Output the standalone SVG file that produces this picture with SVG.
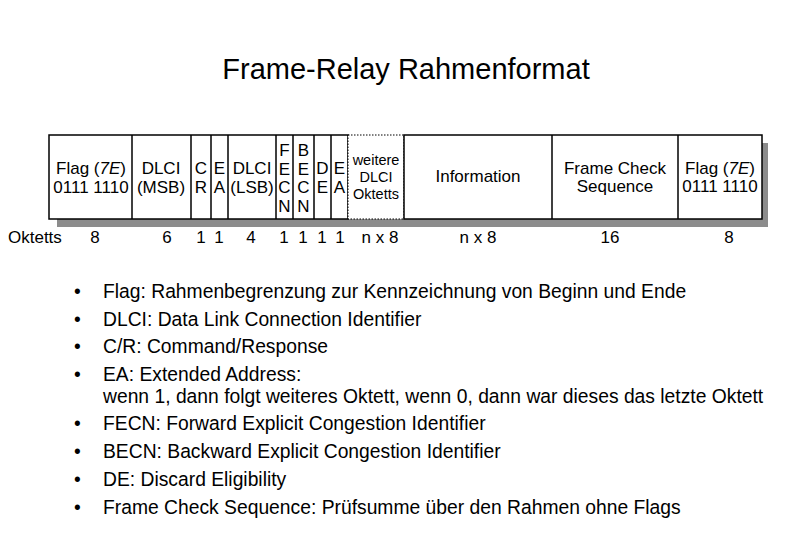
<svg xmlns="http://www.w3.org/2000/svg" width="800" height="550" viewBox="0 0 800 550">
<style>
text{font-family:"Liberation Sans",Arial,sans-serif;fill:#000}
.c{font-size:17px;text-anchor:middle}
.o{font-size:17px;text-anchor:middle}
.b{font-size:19.3px}
.cell{fill:#fff;stroke:#000;stroke-width:1.5}
</style>
<rect width="800" height="550" fill="#fff"/>
<text x="406" y="79" font-size="29" text-anchor="middle">Frame-Relay Rahmenformat</text>
<g id="shadow"><rect x="57" y="143" width="711" height="84" fill="#8c8c8c"/></g>
<g id="frame">
<rect class="cell" x="49" y="135" width="299" height="84"/>
<rect x="348" y="135" width="56" height="84" fill="#fff" stroke="#000" stroke-width="1" stroke-dasharray="1.5,1.5"/>
<rect class="cell" x="404" y="135" width="358" height="84"/>
<g stroke="#000" stroke-width="1.5">
<line x1="132" y1="135" x2="132" y2="219"/><line x1="191" y1="135" x2="191" y2="219"/>
<line x1="211" y1="135" x2="211" y2="219"/><line x1="228" y1="135" x2="228" y2="219"/>
<line x1="276" y1="135" x2="276" y2="219"/><line x1="293" y1="135" x2="293" y2="219"/>
<line x1="314" y1="135" x2="314" y2="219"/><line x1="331" y1="135" x2="331" y2="219"/>
<line x1="552" y1="135" x2="552" y2="219"/><line x1="678" y1="135" x2="678" y2="219"/>
</g>
</g>
<g id="labels">
<text class="c" x="91" y="174">Flag (<tspan font-style="italic">7E</tspan>)</text>
<text class="c" x="91" y="193">0111 1110</text>
<text class="c" x="161" y="174">DLCI</text><text class="c" x="161" y="193">(MSB)</text>
<text class="c" x="201" y="174">C</text><text class="c" x="201" y="193">R</text>
<text class="c" x="219.5" y="174">E</text><text class="c" x="219.5" y="193">A</text>
<text class="c" x="252" y="174">DLCI</text><text class="c" x="252" y="193">(LSB)</text>
<text class="c" x="284.5" y="156">F</text><text class="c" x="284.5" y="174.5">E</text><text class="c" x="284.5" y="193">C</text><text class="c" x="284.5" y="211.5">N</text>
<text class="c" x="303.5" y="156">B</text><text class="c" x="303.5" y="174.5">E</text><text class="c" x="303.5" y="193">C</text><text class="c" x="303.5" y="211.5">N</text>
<text class="c" x="322.5" y="174">D</text><text class="c" x="322.5" y="193">E</text>
<text class="c" x="339.5" y="174">E</text><text class="c" x="339.5" y="193">A</text>
<text x="376" y="165" font-size="14.5" text-anchor="middle">weitere</text>
<text x="376" y="182" font-size="14.5" text-anchor="middle">DLCI</text>
<text x="376" y="199" font-size="14.5" text-anchor="middle">Oktetts</text>
<text class="c" x="478" y="182">Information</text>
<text class="c" x="615" y="174">Frame Check</text><text class="c" x="615" y="192">Sequence</text>
<text class="c" x="720" y="174">Flag (<tspan font-style="italic">7E</tspan>)</text>
<text class="c" x="720" y="192">0111 1110</text>
</g>
<g id="octets">
<text x="8" y="243" font-size="17">Oktetts</text>
<text class="o" x="95" y="243">8</text><text class="o" x="167" y="243">6</text>
<text class="o" x="201" y="243">1</text><text class="o" x="219" y="243">1</text>
<text class="o" x="251" y="243">4</text><text class="o" x="284" y="243">1</text>
<text class="o" x="303" y="243">1</text><text class="o" x="322" y="243">1</text>
<text class="o" x="340" y="243">1</text><text class="o" x="380" y="243">n x 8</text>
<text class="o" x="478" y="243">n x 8</text><text class="o" x="610" y="243">16</text>
<text class="o" x="729" y="243">8</text>
</g>
<g id="bullets" class="b">
<text x="74" y="298">•</text><text x="103" y="298">Flag: Rahmenbegrenzung zur Kennzeichnung von Beginn und Ende</text>
<text x="74" y="326">•</text><text x="103" y="326">DLCI: Data Link Connection Identifier</text>
<text x="74" y="353">•</text><text x="103" y="353">C/R: Command/Response</text>
<text x="74" y="381">•</text><text x="103" y="381">EA: Extended Address:</text>
<text x="103" y="403">wenn 1, dann folgt weiteres Oktett, wenn 0, dann war dieses das letzte Oktett</text>
<text x="74" y="430">•</text><text x="103" y="430">FECN: Forward Explicit Congestion Identifier</text>
<text x="74" y="458">•</text><text x="103" y="458">BECN: Backward Explicit Congestion Identifier</text>
<text x="74" y="486">•</text><text x="103" y="486">DE: Discard Eligibility</text>
<text x="74" y="514">•</text><text x="103" y="514">Frame Check Sequence: Prüfsumme über den Rahmen ohne Flags</text>
</g>
</svg>
